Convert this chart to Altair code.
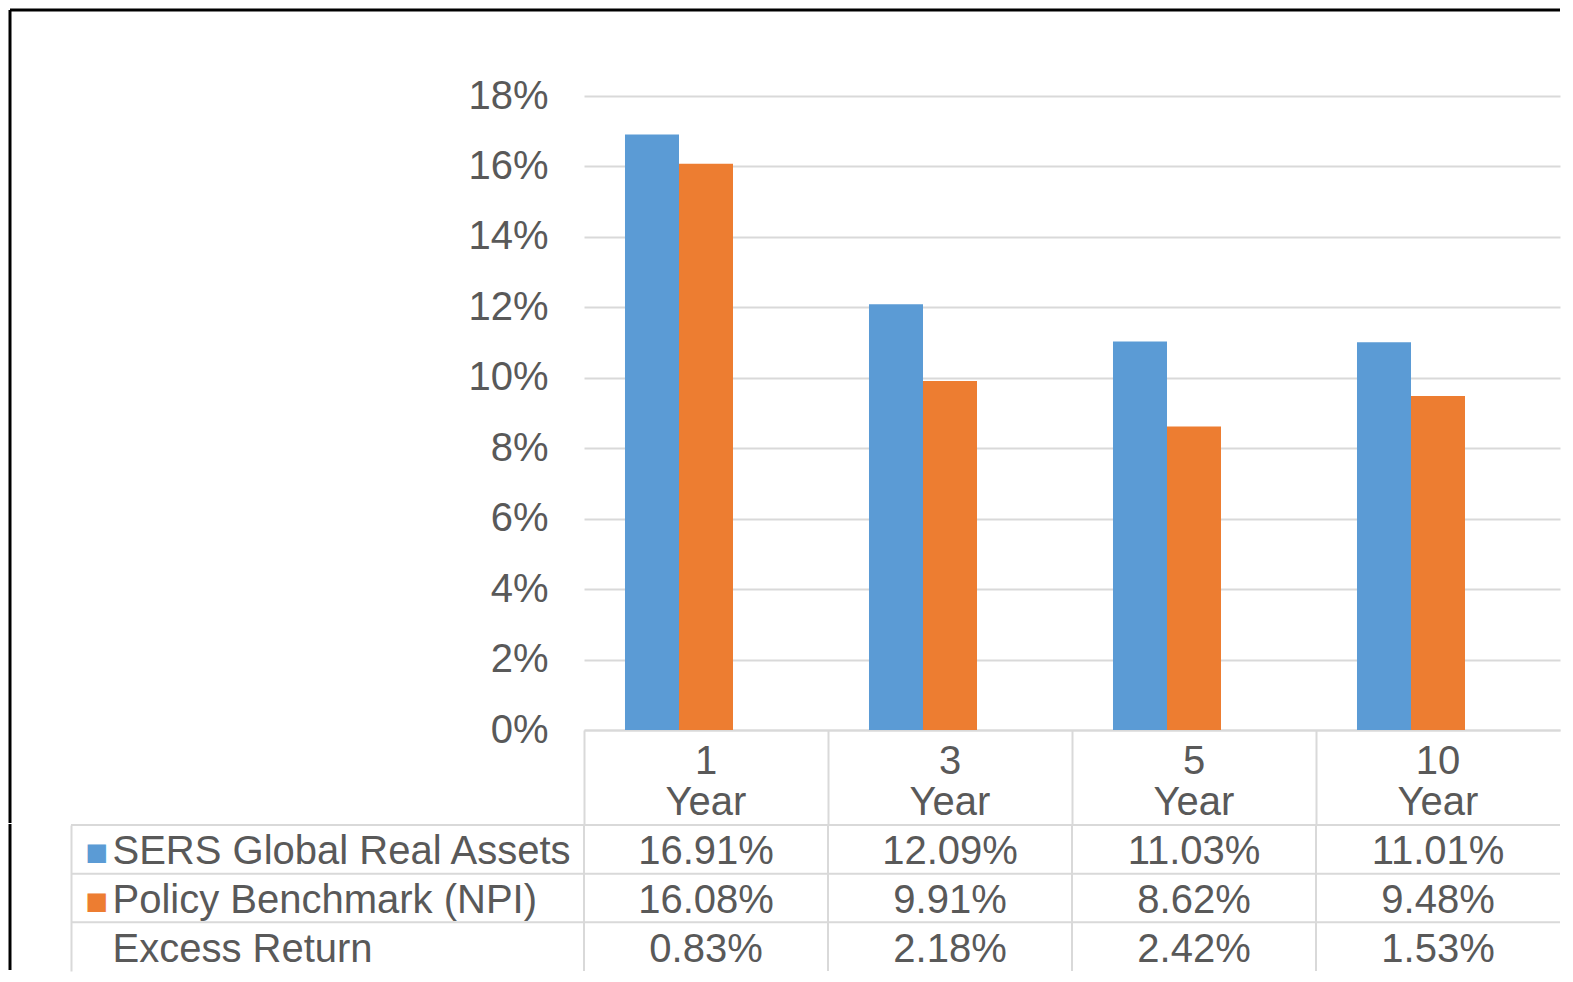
import altair as alt
import pandas as pd

periods = ["1 Year", "3 Year", "5 Year", "10 Year"]
series_names = ["SERS Global Real Assets", "Policy Benchmark (NPI)", "Excess Return"]
sers = [16.91, 12.09, 11.03, 11.01]
policy = [16.08, 9.91, 8.62, 9.48]
excess = [0.83, 2.18, 2.42, 1.53]
y_ticks = [0, 2, 4, 6, 8, 10, 12, 14, 16, 18]
bar_colors = ["#5b9bd5", "#ed7d31"]

rows = []
for i, p in enumerate(periods):
    for name, vals in zip(series_names, [sers, policy, excess]):
        rows.append({"period": p, "series": name, "value": vals[i]})
df = pd.DataFrame(rows)
period_df = pd.DataFrame({"period": periods})
series_df = pd.DataFrame({"series": series_names})
frame_df = pd.DataFrame({"k": [0]})

FONT = "Liberation Sans"
TXT = "#595959"
GRID = "#d9d9d9"
W = 976
H = 634
ROWH = 146
FS = 40
LABEL_COL = 513
HEADER = 94

x_scale = alt.Scale(domain=periods, paddingInner=0, paddingOuter=0)
row_scale = alt.Scale(domain=series_names, paddingInner=0, paddingOuter=0)

# ---------- bars ----------
bars = alt.Chart(df).transform_filter(alt.datum.series != "Excess Return").mark_bar().encode(
    x=alt.X("period:N", sort=periods, scale=x_scale,
            axis=alt.Axis(title=None, labelAngle=0, labelExpr="split(datum.label, ' ')",
                          labelFont=FONT, labelFontSize=FS, labelColor=TXT, labelLineHeight=41,
                          labelPadding=-83, labelBaseline="top", bandPosition=0,
                          tickSize=HEADER, tickColor=GRID, tickWidth=2,
                          domainColor=GRID, domainWidth=2, grid=False)),
    xOffset=alt.XOffset("series:N",
                        scale=alt.Scale(domain=series_names, paddingInner=0, paddingOuter=0.759)),
    y=alt.Y("value:Q", scale=alt.Scale(domain=[0, 18], nice=False),
            axis=alt.Axis(title=None, values=y_ticks, labelExpr="datum.value + '%'",
                          labelFont=FONT, labelFontSize=FS, labelColor=TXT, labelPadding=36,
                          ticks=False, domain=False, grid=True, gridColor=GRID, gridWidth=2)),
    color=alt.Color("series:N", scale=alt.Scale(domain=series_names[:2], range=bar_colors),
                    legend=None),
)

frameA_v = alt.Chart(frame_df).mark_rule(color="black", strokeWidth=3).encode(
    x=alt.value(-574), y=alt.value(-86), y2=alt.value(H + HEADER - 1))
frameA_h = alt.Chart(frame_df).mark_rule(color="black", strokeWidth=3).encode(
    x=alt.value(-574), x2=alt.value(W), y=alt.value(-86))

chartA = alt.layer(bars, frameA_v, frameA_h).properties(width=W, height=H)

# ---------- data table ----------
table_text = alt.Chart(df).transform_calculate(
    txt="format(datum.value, '.2f') + '%'"
).mark_text(font=FONT, fontSize=FS, color=TXT, dy=3).encode(
    x=alt.X("period:N", sort=periods, scale=x_scale, axis=None),
    y=alt.Y("series:N", sort=series_names, scale=row_scale,
            axis=alt.Axis(title=None, orient="left", ticks=False, grid=False, domain=False,
                          labelAlign="left", labelPadding=472, labelLimit=0, labelFont=FONT,
                          labelFontSize=FS, labelColor=TXT, labelBaseline="middle",
                          labelOffset=3)),
    text="txt:N",
)

squares = alt.Chart(series_df).mark_point(opacity=0).encode(
    y=alt.Y("series:N", sort=series_names, scale=row_scale,
            axis=alt.Axis(title=None, orient="left", offset=LABEL_COL, ticks=False, domain=True,
                          domainColor=GRID, domainWidth=2, grid=False,
                          labelExpr="datum.value == 'Excess Return' ? '' : '\u25a0'",
                          labelAlign="left", labelPadding=-14, labelFont="DejaVu Sans",
                          labelFontSize=24, labelBaseline="middle", labelOffset=4,
                          labelColor={"condition": {"test": "datum.value == 'SERS Global Real Assets'",
                                                    "value": bar_colors[0]},
                                      "value": bar_colors[1]})),
)

col_lines = alt.Chart(period_df).mark_rule(color=GRID, strokeWidth=2).encode(
    x=alt.X("period:N", sort=periods, scale=x_scale, bandPosition=0, axis=None))

row_lines = alt.Chart(series_df).mark_rule(color=GRID, strokeWidth=2).encode(
    y=alt.Y("series:N", sort=series_names, scale=row_scale, bandPosition=0, axis=None))

row_lines_label = alt.Chart(series_df).mark_rule(color=GRID, strokeWidth=2).encode(
    x=alt.value(-LABEL_COL), x2=alt.value(0),
    y=alt.Y("series:N", sort=series_names, scale=row_scale, bandPosition=0, axis=None))

frameB = alt.Chart(frame_df).mark_rule(color="black", strokeWidth=3).encode(
    x=alt.value(-574), y=alt.value(-1), y2=alt.value(ROWH - 1))

chartB = alt.layer(col_lines, row_lines, row_lines_label, table_text, squares, frameB).resolve_axis(
    y="independent").properties(width=W, height=ROWH)

chart = alt.vconcat(chartA, chartB, spacing=-6).resolve_scale(
    x="independent", y="independent", color="independent"
).properties(padding=0).configure_view(stroke=None)

chart.save("out.html", embed_options={"renderer": "svg", "actions": False})
